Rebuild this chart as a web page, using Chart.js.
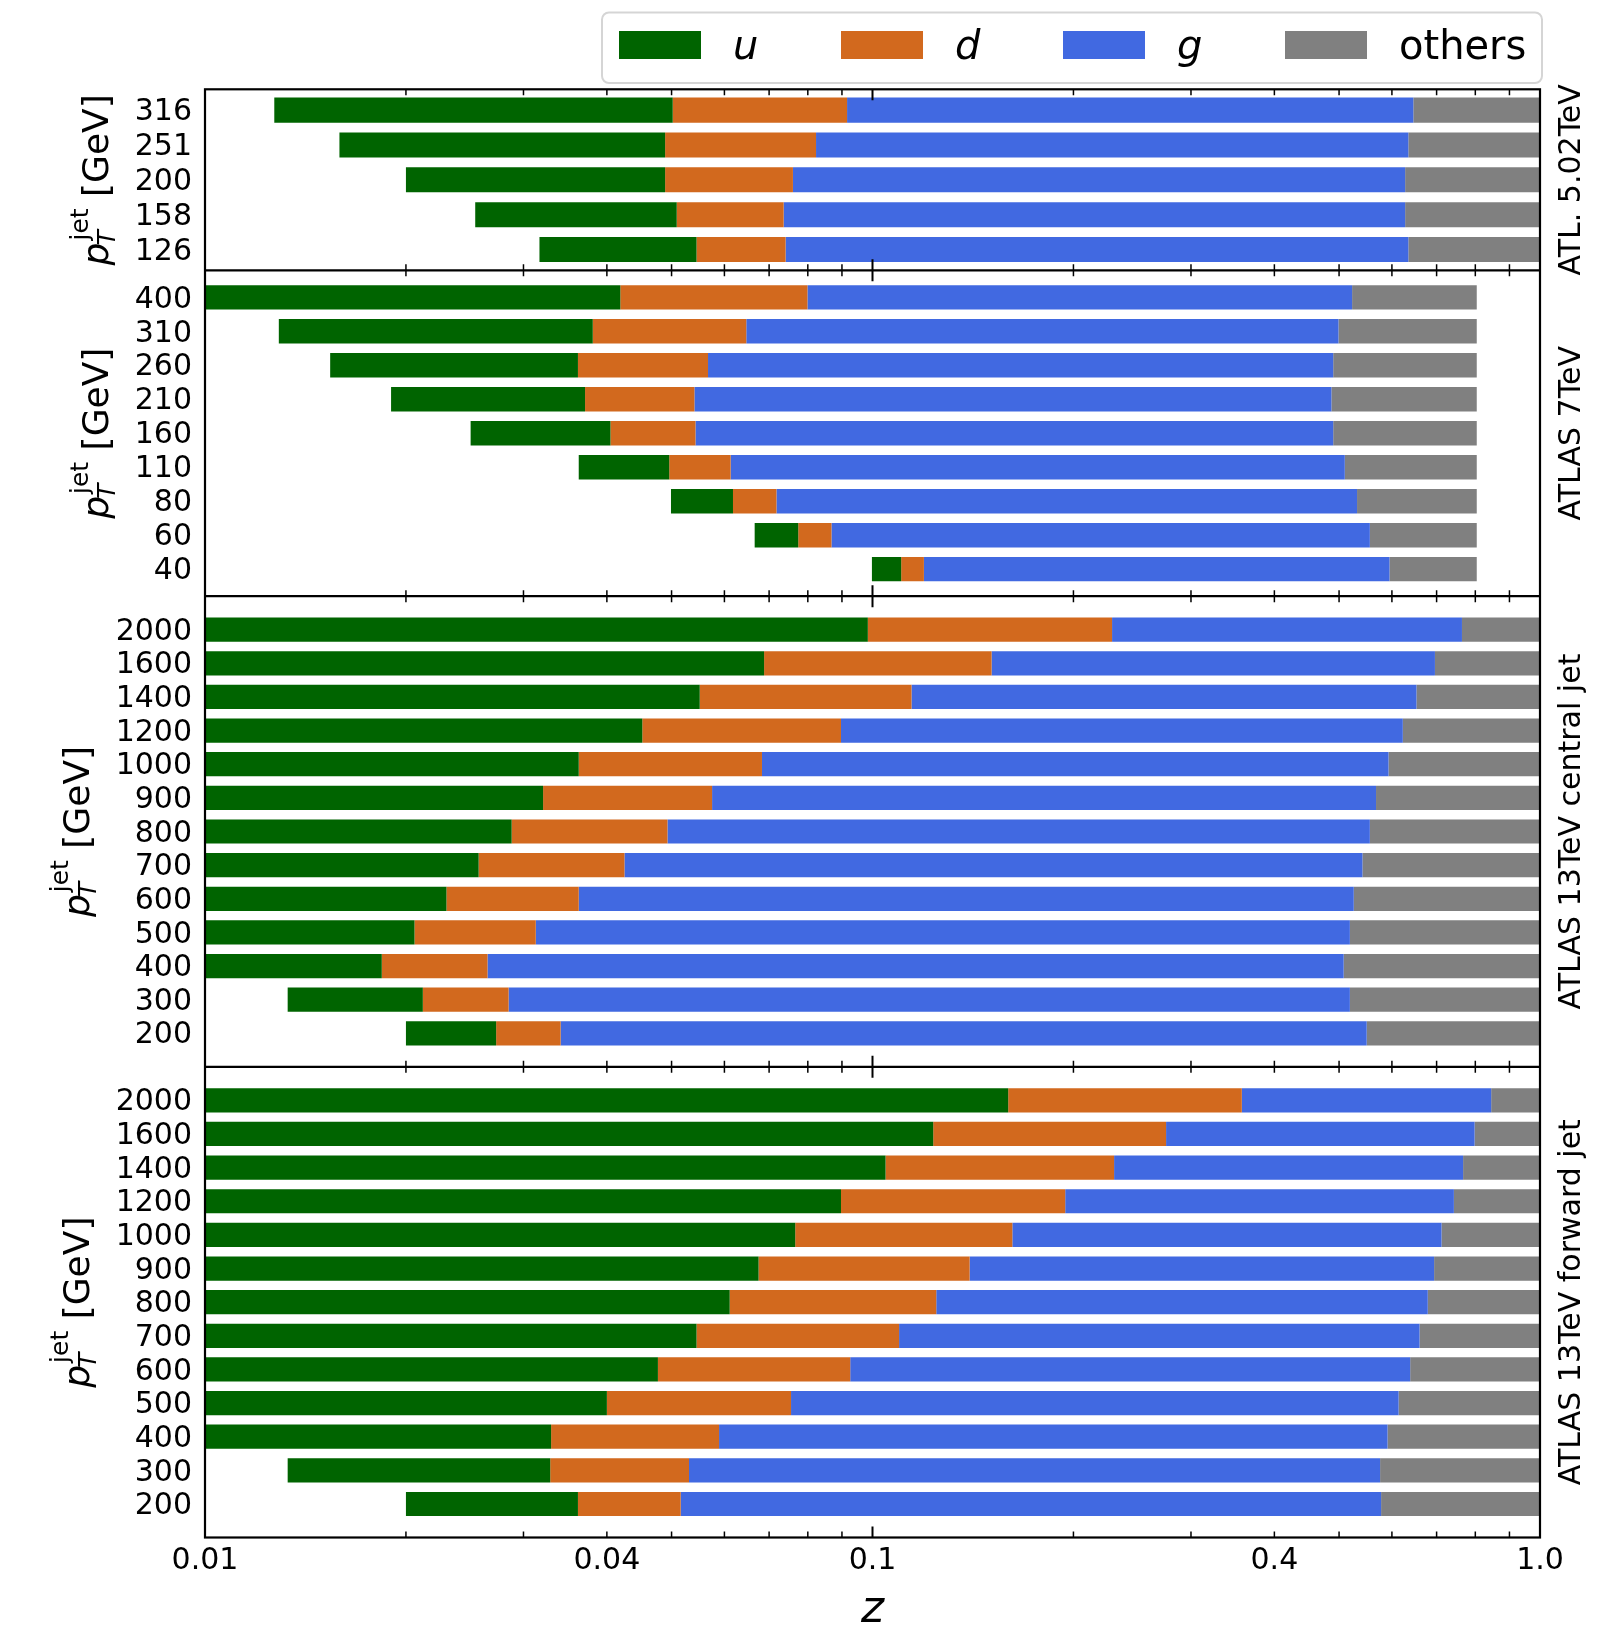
<!DOCTYPE html>
<html>
<head>
<meta charset="utf-8">
<script src="https://cdn.jsdelivr.net/npm/chart.js@4.4.1/dist/chart.umd.min.js"></script>
<style>
  body { margin: 0; background: #fff; }
  canvas { display: block; }
</style>
</head>
<body>
<canvas id="flavourChart" width="1619" height="1628"></canvas>
<script>
const FONT = 'DejaVu Sans';

const flavours = ['u', 'd', 'g', 'others'];
const flavourColors = ['#006400', '#D2691E', '#4169E1', '#808080'];

const xTicks = [0.01, 0.02, 0.03, 0.04, 0.05, 0.06, 0.07, 0.08, 0.09,
  0.1, 0.2, 0.3, 0.4, 0.5, 0.6, 0.7, 0.8, 0.9, 1];
const xTickLabels = { 0.01: '0.01', 0.04: '0.04', 0.1: '0.1', 0.4: '0.4', 1: '1.0' };

// ATL. 5.02TeV  (bar edges: start | u | d | g | end)
const atl502Pt = ['316', '251', '200', '158', '126'];
const atl502Start = [0.0127, 0.0159, 0.0200, 0.0254, 0.0317];
const atl502U = [0.0502, 0.0489, 0.0489, 0.0509, 0.0545];
const atl502D = [0.0916, 0.0823, 0.0760, 0.0736, 0.0741];
const atl502G = [0.646, 0.635, 0.628, 0.628, 0.635];
const atl502End = [1, 1, 1, 1, 1];

// ATLAS 7TeV
const atl7Pt = ['400', '310', '260', '210', '160', '110', '80', '60', '40'];
const atl7Start = [0.01, 0.0129, 0.0154, 0.0190, 0.0250, 0.0363, 0.0499, 0.0666, 0.0998];
const atl7U = [0.0419, 0.0381, 0.0362, 0.0371, 0.0405, 0.0496, 0.0618, 0.0774, 0.1104];
const atl7D = [0.0799, 0.0647, 0.0567, 0.0541, 0.0543, 0.0613, 0.0718, 0.0868, 0.1194];
const atl7G = [0.523, 0.499, 0.490, 0.487, 0.490, 0.510, 0.532, 0.556, 0.595];
const atl7End = [0.804, 0.804, 0.804, 0.804, 0.804, 0.804, 0.804, 0.804, 0.804];

// ATLAS 13TeV central jet
const atl13Pt = ['2000', '1600', '1400', '1200', '1000', '900', '800', '700', '600', '500', '400', '300', '200'];
const centStart = [0.01, 0.01, 0.01, 0.01, 0.01, 0.01, 0.01, 0.01, 0.01, 0.01, 0.01, 0.0133, 0.0200];
const centU = [0.0984, 0.0688, 0.0551, 0.0452, 0.0363, 0.0321, 0.0288, 0.0257, 0.0230, 0.0206, 0.0184, 0.0212, 0.0273];
const centD = [0.2285, 0.1508, 0.1144, 0.0897, 0.0683, 0.0575, 0.0493, 0.0425, 0.0363, 0.0313, 0.0265, 0.0285, 0.0341];
const centG = [0.764, 0.696, 0.653, 0.623, 0.593, 0.568, 0.556, 0.542, 0.526, 0.519, 0.508, 0.519, 0.550];
const centEnd = [1, 1, 1, 1, 1, 1, 1, 1, 1, 1, 1, 1, 1];

// ATLAS 13TeV forward jet
const fwdStart = [0.01, 0.01, 0.01, 0.01, 0.01, 0.01, 0.01, 0.01, 0.01, 0.01, 0.01, 0.0133, 0.0200];
const fwdU = [0.1597, 0.1233, 0.1046, 0.0897, 0.0766, 0.0675, 0.0611, 0.0545, 0.0477, 0.0400, 0.0330, 0.0329, 0.0362];
const fwdD = [0.3575, 0.2753, 0.2301, 0.1944, 0.1620, 0.1398, 0.1246, 0.1096, 0.0926, 0.0755, 0.0589, 0.0531, 0.0516];
const fwdG = [0.845, 0.798, 0.767, 0.743, 0.712, 0.694, 0.679, 0.660, 0.639, 0.614, 0.591, 0.576, 0.578];
const fwdEnd = [1, 1, 1, 1, 1, 1, 1, 1, 1, 1, 1, 1, 1];

const panels = [
  { name: 'ATL. 5.02TeV', pt: atl502Pt, edges: [atl502Start, atl502U, atl502D, atl502G, atl502End] },
  { name: 'ATLAS 7TeV', pt: atl7Pt, edges: [atl7Start, atl7U, atl7D, atl7G, atl7End] },
  { name: 'ATLAS 13TeV central jet', pt: atl13Pt, edges: [centStart, centU, centD, centG, centEnd] },
  { name: 'ATLAS 13TeV forward jet', pt: atl13Pt, edges: [fwdStart, fwdU, fwdD, fwdG, fwdEnd] },
];

const datasets = [];
panels.forEach((p, pi) => {
  flavours.forEach((f, fi) => {
    datasets.push({
      label: f,
      yAxisID: 'y' + pi,
      data: p.pt.map((_, i) => ({ y: i, x: [p.edges[fi][i], p.edges[fi + 1][i]] })),
      backgroundColor: flavourColors[fi],
      borderWidth: 0,
      grouped: false,
      barPercentage: 0.72,
      categoryPercentage: 1,
    });
  });
});

const scales = {
  x: {
    type: 'logarithmic',
    min: 0.01,
    max: 1,
    afterBuildTicks: (s) => { s.ticks = xTicks.map((v) => ({ value: v })); },
    afterFit: (s) => { s.height = 90.5; },
    grid: { display: false, drawTicks: false },
    border: { display: false },
    ticks: {
      autoSkip: false,
      maxRotation: 0,
      padding: 6,
      color: '#000',
      font: { family: FONT, size: 30 },
      callback: (v) => xTickLabels[v] ?? '',
    },
  },
};

// canvas 'middle' sits a bit high for digits, nudge labels down slightly
const LABEL_NUDGE = 0.07;

panels.forEach((p, pi) => {
  const n = p.pt.length;
  const pad = 0.36 + 0.05 * (n - 0.28);
  scales['y' + pi] = {
    type: 'linear',
    position: 'left',
    stack: 'panels',
    stackWeight: n,
    weight: panels.length - pi,
    reverse: true,
    offset: false,
    bounds: 'data',
    min: -pad,
    max: n - 1 + pad,
    afterBuildTicks: (s) => { s.ticks = p.pt.map((_, i) => ({ value: i + LABEL_NUDGE })); },
    afterFit: (s) => { s.width = 205; },
    grid: { display: false, drawTicks: false, offset: false },
    border: { display: false },
    ticks: {
      autoSkip: false,
      padding: 13,
      color: '#000',
      font: { family: FONT, size: 30 },
      callback: (v) => p.pt[Math.round(v)],
    },
  };
});

function drawPtTitle(ctx, xBase, yc) {
  const F = 36, S = 25;
  ctx.save();
  ctx.translate(xBase, yc);
  ctx.rotate(-Math.PI / 2);
  ctx.fillStyle = '#000';
  ctx.textAlign = 'left';
  ctx.textBaseline = 'alphabetic';
  ctx.font = `italic ${F}px ${FONT}`;
  const wp = ctx.measureText('p').width;
  ctx.font = `italic ${S}px ${FONT}`;
  const wt = ctx.measureText('T').width;
  ctx.font = `${S}px ${FONT}`;
  const wj = ctx.measureText('jet').width;
  ctx.font = `${F}px ${FONT}`;
  const wg = ctx.measureText(' [GeV]').width;
  const wsub = Math.max(wt - 2, wj + 2);
  const x0 = -(wp + wsub + wg) / 2;
  ctx.font = `italic ${F}px ${FONT}`;
  ctx.fillText('p', x0, 0);
  ctx.font = `italic ${S}px ${FONT}`;
  ctx.fillText('T', x0 + wp - 3, 0.2 * F);
  ctx.font = `${S}px ${FONT}`;
  ctx.fillText('jet', x0 + wp + 2, -0.56 * F);
  ctx.font = `${F}px ${FONT}`;
  ctx.fillText(' [GeV]', x0 + wp + wsub, 0);
  ctx.restore();
}

const panelDecor = {
  id: 'panelDecor',
  afterDraw(chart) {
    const { ctx, chartArea: a } = chart;
    const x = chart.scales.x;
    ctx.save();

    // inward ticks on every panel edge
    ctx.strokeStyle = '#000';
    panels.forEach((p, pi) => {
      const s = chart.scales['y' + pi];
      xTicks.forEach((v) => {
        const major = Math.abs(Math.log10(v) - Math.round(Math.log10(v))) < 1e-9;
        const len = major ? 11 : 6;
        const px = x.getPixelForValue(v);
        ctx.lineWidth = major ? 2 : 1.5;
        ctx.beginPath();
        ctx.moveTo(px, s.top);
        ctx.lineTo(px, s.top + len);
        ctx.moveTo(px, s.bottom);
        ctx.lineTo(px, s.bottom - len);
        ctx.stroke();
      });
    });

    // frame and panel separators
    ctx.lineWidth = 2.2;
    ctx.strokeRect(a.left, a.top, a.right - a.left, a.bottom - a.top);
    panels.slice(0, -1).forEach((p, pi) => {
      const yb = chart.scales['y' + pi].bottom;
      ctx.beginPath();
      ctx.moveTo(a.left, yb);
      ctx.lineTo(a.right, yb);
      ctx.stroke();
    });

    // panel names on the right, y titles left of the tick labels
    ctx.fillStyle = '#000';
    panels.forEach((p, pi) => {
      const s = chart.scales['y' + pi];
      const yc = (s.top + s.bottom) / 2;
      ctx.save();
      ctx.translate(a.right + 40, yc);
      ctx.rotate(-Math.PI / 2);
      ctx.font = `30px ${FONT}`;
      ctx.textAlign = 'center';
      ctx.textBaseline = 'alphabetic';
      ctx.fillText(p.name, 0, 0);
      ctx.restore();
      ctx.font = `30px ${FONT}`;
      const labelW = Math.max(...p.pt.map((t) => ctx.measureText(t).width));
      drawPtTitle(ctx, a.left - 13 - labelW - 27, yc);
    });

    // x title
    ctx.font = `italic 44px ${FONT}`;
    ctx.textAlign = 'center';
    ctx.textBaseline = 'alphabetic';
    ctx.fillText('z', (a.left + a.right) / 2, 1622);

    // legend
    const lx = 602, ly = 12.5, lw = 940, lh = 70.5;
    ctx.beginPath();
    ctx.roundRect(lx, ly, lw, lh, 7);
    ctx.fillStyle = 'rgba(255,255,255,0.8)';
    ctx.fill();
    ctx.strokeStyle = '#d5d5d5';
    ctx.lineWidth = 2;
    ctx.stroke();
    flavours.forEach((f, fi) => {
      const sx = 619 + fi * 222;
      ctx.fillStyle = flavourColors[fi];
      ctx.fillRect(sx, 31, 82, 28);
      ctx.fillStyle = '#000';
      ctx.font = (f === 'others' ? '' : 'italic ') + `40px ${FONT}`;
      ctx.textAlign = 'left';
      ctx.fillText(f, sx + 114, 59);
    });
    ctx.restore();
  },
};

new Chart(document.getElementById('flavourChart'), {
  type: 'bar',
  data: { datasets },
  options: {
    indexAxis: 'y',
    responsive: false,
    animation: false,
    devicePixelRatio: 1,
    layout: { padding: { top: 89.3, right: 79, bottom: 0, left: 0 } },
    scales,
    plugins: {
      legend: { display: false },
      tooltip: { enabled: false },
    },
  },
  plugins: [panelDecor],
});
</script>
</body>
</html>
